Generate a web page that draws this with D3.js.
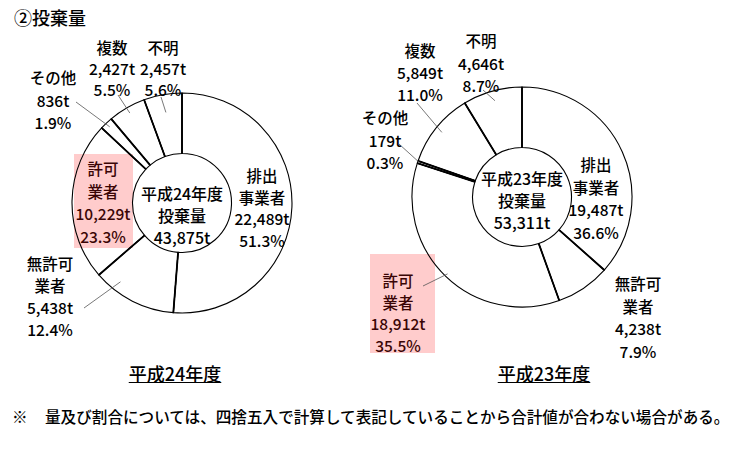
<!DOCTYPE html>
<html>
<head>
<meta charset="utf-8">
<script src="https://cdn.jsdelivr.net/npm/d3@7"></script>
<style>
  body { margin: 0; background: #fff; }
  text { font-family: "Noto Sans CJK JP", "Noto Sans", sans-serif; fill: #000; font-weight: 500; }
</style>
</head>
<body>
<svg width="743" height="456"></svg>
<script>
// slices clockwise from 12 o'clock
var categories = ["排出事業者", "無許可業者", "許可業者", "その他", "複数", "不明"];
var labelLines = [["排出", "事業者"], ["無許可", "業者"], ["許可", "業者"], ["その他"], ["複数"], ["不明"]];
var years = ["平成24年度", "平成23年度"];
var totals = [43875, 53311];
var tons24 = [22489, 5438, 10229, 836, 2427, 2457];
var pct24 = [51.3, 12.4, 23.3, 1.9, 5.5, 5.6];
var tons23 = [19487, 4238, 18912, 179, 5849, 4646];
var pct23 = [36.6, 7.9, 35.5, 0.3, 11.0, 8.7];

var svg = d3.select("svg");
var fmtT = d3.format(","), fmtP = d3.format(".1f");
var outerR = 110, innerR = 49.5;

// label layout: x, first line y, line step, leader start, leader radius
var layout24 = [
  {x: 262, y: 175, dy: 21.5},
  {x: 50, y: 263, dy: 22, lead: [84, 308], lr: 100, la: 0.75},
  {x: 103, y: 168, dy: 22.7, box: [74, 154, 59, 94]},
  {x: 53, y: 77, dy: 22.5, lead: [76, 102], lr: 105},
  {x: 112, y: 47, dy: 21, lead: [118, 95], lr: 104},
  {x: 163, y: 47, dy: 21, lead: [161, 97], lr: 92}
];
var layout23 = [
  {x: 596, y: 164, dy: 22.7},
  {x: 638, y: 283, dy: 22.5},
  {x: 398, y: 280, dy: 21.7, box: [370, 254, 65, 99], lead: [423, 286], lr: 107},
  {x: 385, y: 117, dy: 22.5, lead: [399, 144], lr: 108},
  {x: 420, y: 50, dy: 22, lead: [417, 103], lr: 103},
  {x: 481, y: 40, dy: 22.5, lead: [483, 90], lr: 100}
];

svg.append("text").attr("x", 14).attr("y", 17).attr("dominant-baseline", "central")
  .style("font-size", "18px").text("②投棄量");

function donut(cx, cy, tons, pcts, layout, year, total, textTop, capX) {
  var pie = d3.pie().sort(null).value(d => d)(tons);
  var arc = d3.arc().innerRadius(innerR).outerRadius(outerR);

  // pink highlight boxes sit under the ring
  layout.forEach(function (L) {
    if (L.box) svg.append("rect").attr("x", L.box[0]).attr("y", L.box[1])
      .attr("width", L.box[2]).attr("height", L.box[3]).attr("fill", "#ffcccc");
  });

  var g = svg.append("g").attr("transform", "translate(" + cx + "," + cy + ")");
  g.selectAll("path.slice").data(pie).enter().append("path").attr("class", "slice")
    .attr("d", arc).attr("fill", "none").attr("stroke", "#000").attr("stroke-width", 1.1);
  g.selectAll("line.edge").data(pie).enter().append("line").attr("class", "edge")
    .attr("x1", d => innerR * Math.sin(d.startAngle)).attr("y1", d => -innerR * Math.cos(d.startAngle))
    .attr("x2", d => outerR * Math.sin(d.startAngle)).attr("y2", d => -outerR * Math.cos(d.startAngle))
    .attr("stroke", "#000").attr("stroke-width", 1.8);

  // leader lines
  pie.forEach(function (d, i) {
    var L = layout[i];
    if (!L.lead) return;
    var f = L.la == null ? 0.5 : L.la;
    var a = d.startAngle + (d.endAngle - d.startAngle) * f;
    svg.append("line").attr("x1", L.lead[0]).attr("y1", L.lead[1])
      .attr("x2", cx + L.lr * Math.sin(a)).attr("y2", cy - L.lr * Math.cos(a))
      .attr("stroke", "#555").attr("stroke-width", 0.8);
  });

  // slice labels
  pie.forEach(function (d, i) {
    var L = layout[i];
    var lines = labelLines[i].concat([fmtT(tons[i]) + "t", fmtP(pcts[i]) + "%"]);
    lines.forEach(function (s, k) {
      svg.append("text").attr("x", L.x).attr("y", L.y + k * L.dy)
        .attr("text-anchor", "middle").attr("dominant-baseline", "central")
        .style("font-size", "15.5px").style("fill", L.box ? "#3a0505" : "#000").text(s);
    });
  });

  // centre text
  var centre = [year, "投棄量", fmtT(total) + "t"];
  centre.forEach(function (s, k) {
    svg.append("text").attr("x", cx).attr("y", textTop + k * 22)
      .attr("text-anchor", "middle").attr("dominant-baseline", "central")
      .style("font-size", "16px").text(s);
  });

  // year caption, underlined
  var cap = svg.append("text").attr("x", capX).attr("y", 373)
    .attr("text-anchor", "middle").attr("dominant-baseline", "central")
    .style("font-size", "18px").text(year);
  var w = cap.node().getComputedTextLength();
  svg.append("line").attr("x1", capX - w / 2).attr("x2", capX + w / 2).attr("y1", 382.5).attr("y2", 382.5)
    .attr("stroke", "#000").attr("stroke-width", 1);
}

donut(182, 203, tons24, pct24, layout24, years[0], totals[0], 193, 175);
donut(522, 197, tons23, pct23, layout23, years[1], totals[1], 178, 544);

svg.append("text").attr("x", 12).attr("y", 416).attr("dominant-baseline", "central")
  .style("font-size", "15.6px").text("※");
svg.append("text").attr("x", 45).attr("y", 416).attr("dominant-baseline", "central")
  .style("font-size", "15.6px").text("量及び割合については、四捨五入で計算して表記していることから合計値が合わない場合がある。");
</script>
</body>
</html>
